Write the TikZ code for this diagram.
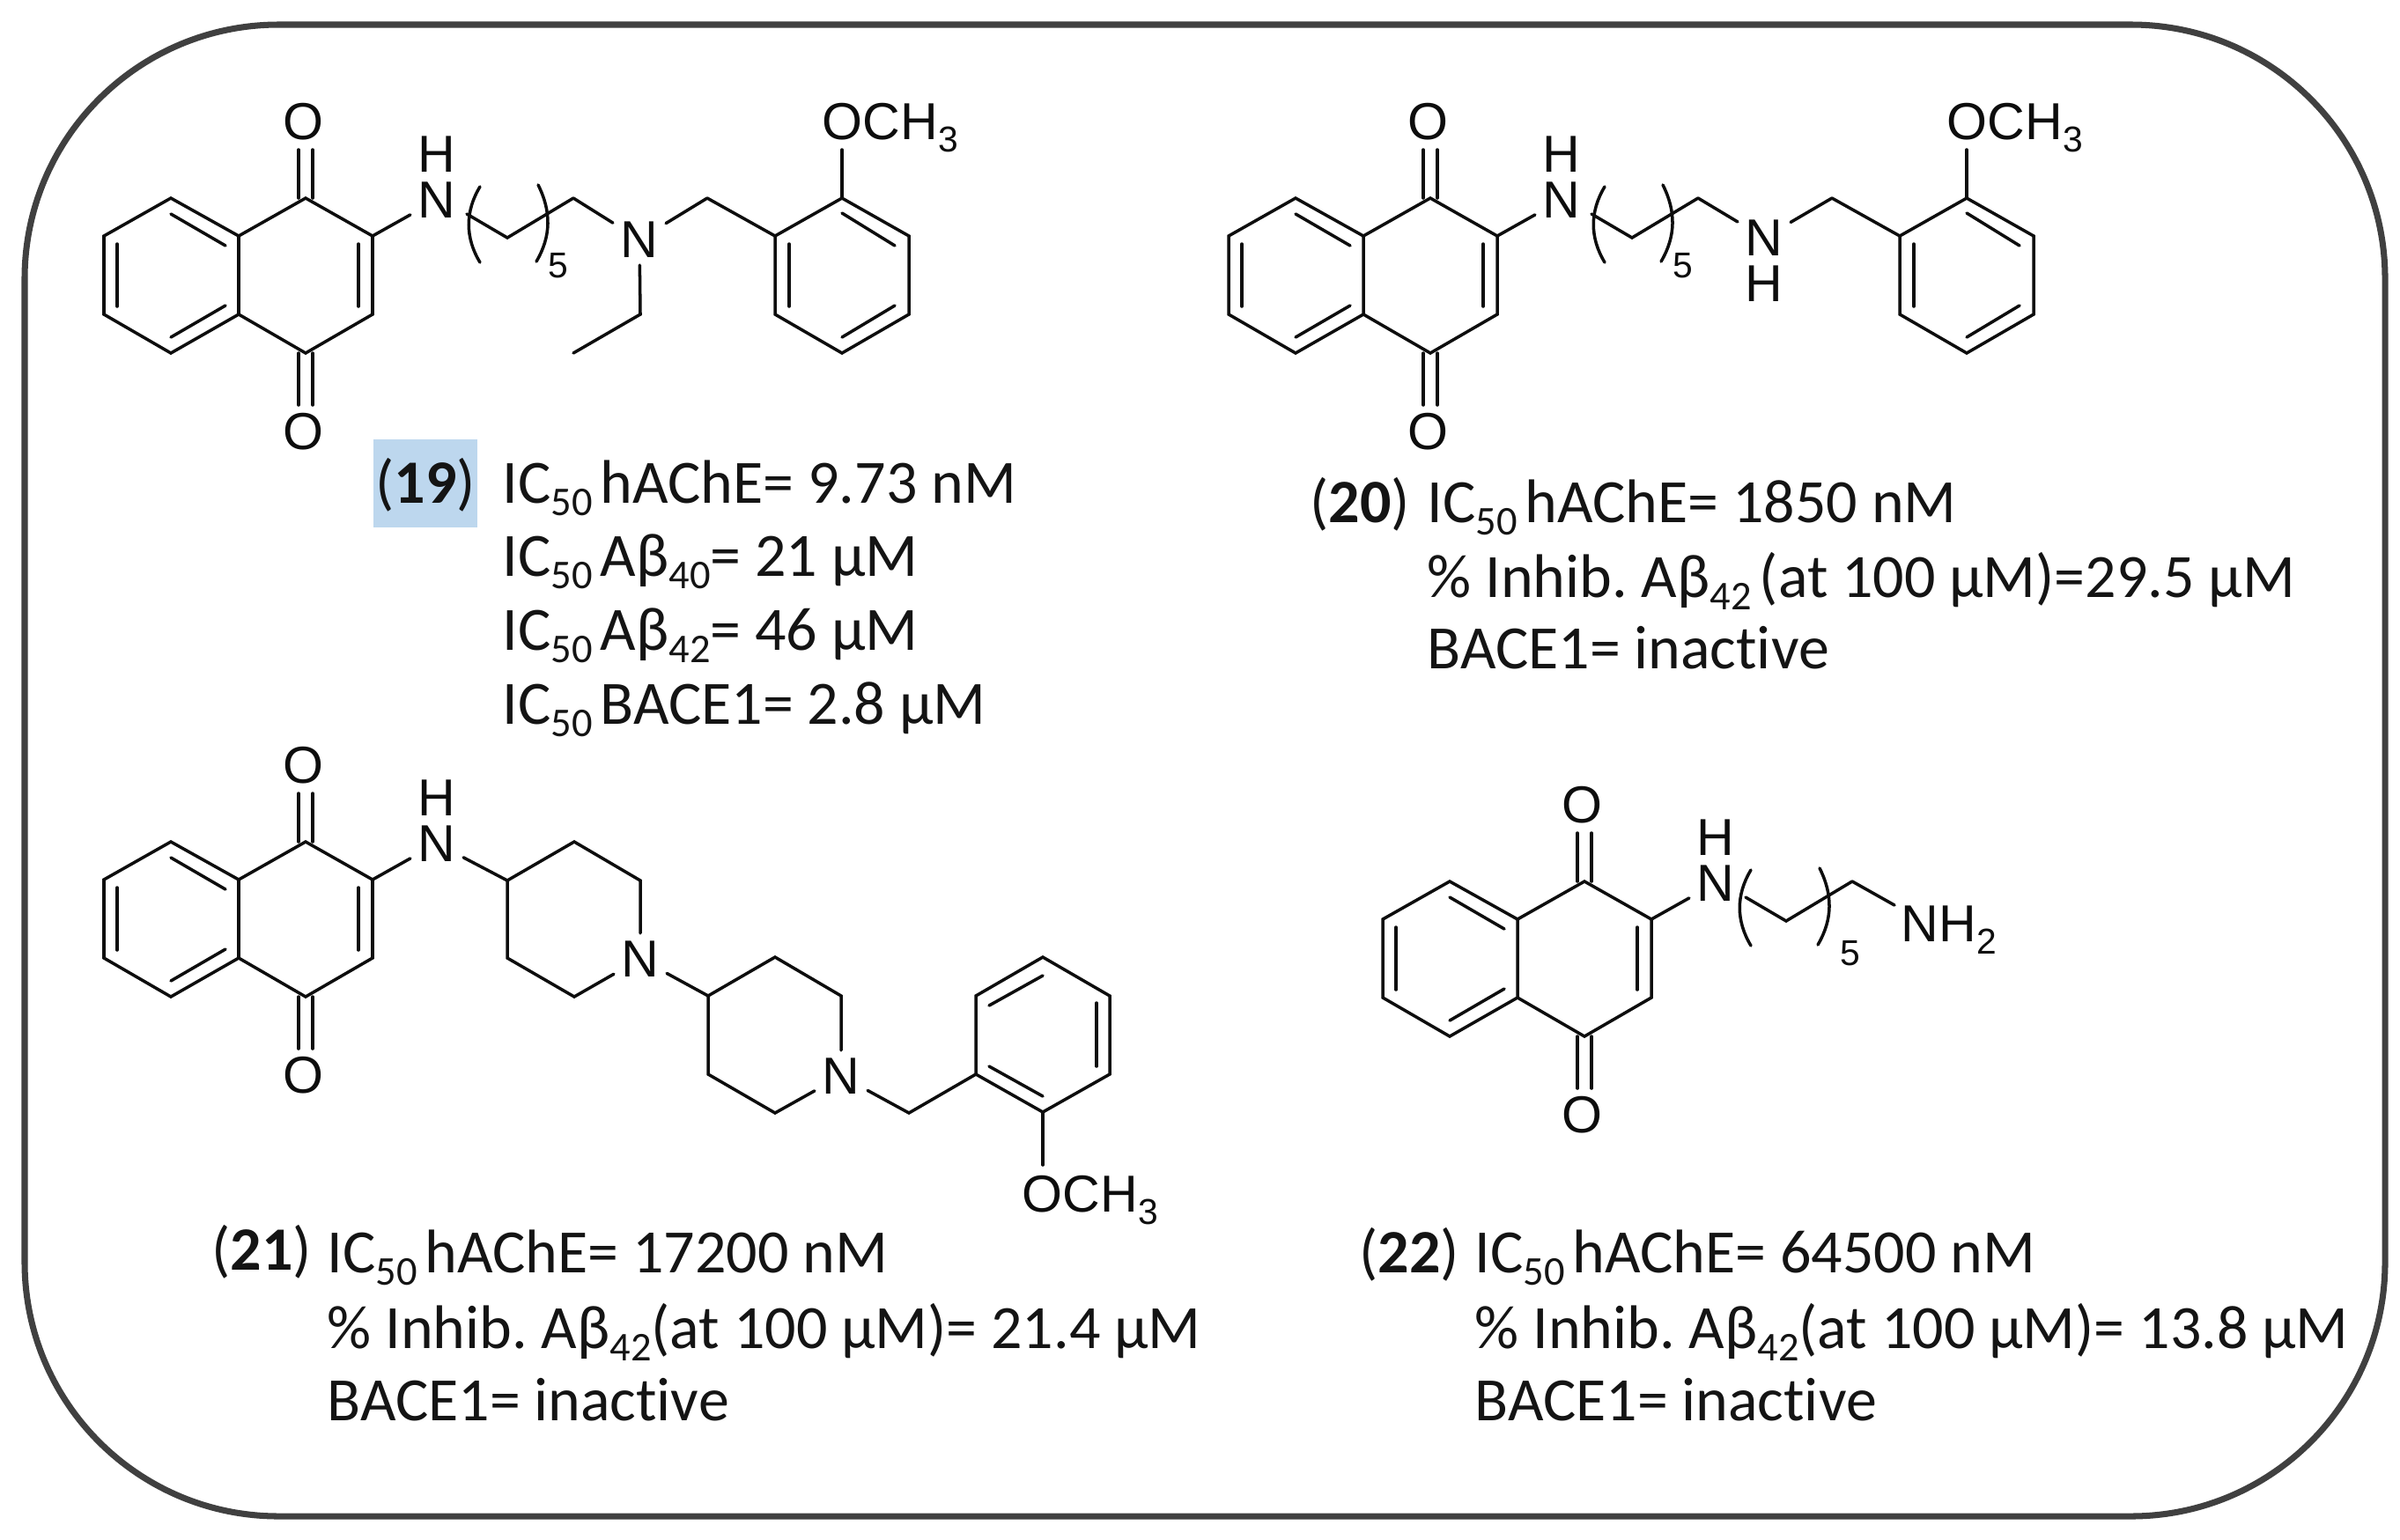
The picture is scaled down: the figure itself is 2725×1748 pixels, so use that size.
\documentclass[tikz,border=0pt]{standalone}
\usepackage{fontspec}
\setmainfont[Ligatures={NoCommon}]{Carlito}
\newfontfamily\atomfont{Liberation Sans}
\definecolor{hilite}{HTML}{BDD7EE}
\definecolor{framegray}{HTML}{404040}
\frenchspacing
\newcommand{\lowidx}[1]{\raisebox{-4pt}{\fontsize{13.2}{13.2}\selectfont #1}}
\newcommand{\atomidx}[1]{\raisebox{-4pt}{\fontsize{11.6}{11.6}\selectfont #1}}
\newcommand{\gp}{\hspace{2.6pt}}
\tikzset{
  x=0.01cm,y=-0.01cm,
  bond/.style={line width=1pt,color=black!95,line join=miter,line cap=round},
  atom/.style={font=\atomfont\fontsize{16.8}{16.8}\selectfont,inner sep=2.3pt,text=black!95},
  hatom/.style={atom,inner sep=0pt},
  count/.style={font=\atomfont\fontsize{11.6}{11.6}\selectfont,inner sep=0pt,text=black!95},
  atomtext/.style={font=\atomfont\fontsize{16.8}{16.8}\selectfont,inner sep=0pt,anchor=base west,text=black!95},
  datum/.style={font=\fontsize{19.9}{19.9}\selectfont,inner sep=0pt,anchor=base west,text=black!92},
  frame/.style={draw=framegray,line width=2pt,rounded corners=82pt}
}
% quinone core with NH, in the frame of compound 19
\newcommand{\quinonecore}{
  \coordinate (a1) at (118,268); \coordinate (a2) at (194,225); \coordinate (a3) at (271,268);
  \coordinate (a4) at (271,357); \coordinate (a5) at (194,401); \coordinate (a6) at (118,357);
  \coordinate (b1) at (347,225); \coordinate (b2) at (423,268); \coordinate (b3) at (423,357);
  \coordinate (b4) at (347,401);
  \draw[bond] (a1)--(a2)--(a3)--(a4)--(a5)--(a6)--cycle;
  \draw[bond] (a3)--(b1)--(b2)--(b3)--(b4)--(a4);
  \draw[bond] (133,277)--(133,348);
  \draw[bond] (194,243)--(256,279);
  \draw[bond] (194,383)--(256,347);
  \draw[bond] (407,277)--(407,348);
  \node[atom] (o1) at (344,138) {O};
  \node[atom] (o2) at (344,490) {O};
  \draw[bond] (339,170)--(339,225) (355,170)--(355,225);
  \draw[bond] (339,401)--(339,460) (355,401)--(355,460);
  \node[atom] (n1) at (496,227) {N};
  \node[hatom] (h1) at (496,175) {H};
  \draw[bond] (b2)--(n1);
}
% pentyl repeat with brackets up to the last CH2: #1 left bracket dx, #2 right bracket dx, #3 count dx, #4 count dy
\newcommand{\pentyl}[4]{
  \coordinate (c1) at (530,243); \coordinate (c2) at (576,270); \coordinate (c3) at (651,225);
  \draw[bond] (c1)--(c2)--(c3);
  \draw[bond,xshift=#1*0.01cm] (545,212) .. controls (528,240) and (528,270) .. (545,298);
  \draw[bond,xshift=#2*0.01cm] (611,210) .. controls (626,240) and (626,268) .. (609,297);
  \node[count] (cnt) at (634+#3,302+#4) {5};
}
% benzyl + OMe of 19 / 20
\newcommand{\anisyl}{
  \coordinate (d0) at (803,225);
  \coordinate (d1) at (880,268); \coordinate (d2) at (956,225); \coordinate (d3) at (1032,268);
  \coordinate (d4) at (1032,357); \coordinate (d5) at (956,401); \coordinate (d6) at (880,357);
  \draw[bond] (d0)--(d1);
  \draw[bond] (d1)--(d2)--(d3)--(d4)--(d5)--(d6)--cycle;
  \draw[bond] (896,277)--(896,348);
  \draw[bond] (956,242)--(1016,279);
  \draw[bond] (956,383)--(1016,347);
  \node[atomtext] (ome) at (933,158) {OCH\atomidx{3}};
  \coordinate (omeb) at (956,170);
  \draw[bond] (d2)--(omeb);
}
\begin{document}
\begin{tikzpicture}
\useasboundingbox (0,0) rectangle (2725,1748);
\fill[white] (0,0) rectangle (2725,1748);
\draw[frame] (28,28) rectangle (2708,1722);

% ---------- 19
\begin{scope}[name prefix=m19-]
  \quinonecore \pentyl{0}{0}{0}{0}
  \node[atom] (n2) at (726,272) {N};
  \coordinate (e1) at (727,357); \coordinate (e2) at (651,401);
  \anisyl
  \draw[bond] (c3)--(n2);
  \draw[bond] (n2)--(d0);
  \draw[bond] (n2)--(e1)--(e2);
\end{scope}
\fill[hilite] (424,499) rectangle (542,599);
\node[datum] (t19) at (426,571) {(\textbf{19})};
\node[datum] (t19a) at (570,571) {IC\lowidx{50}\gp hAChE= 9.73 nM};
\node[datum] (t19b) at (570,654) {IC\lowidx{50}\gp Aβ\lowidx{40}= 21 μM};
\node[datum] (t19c) at (570,738) {IC\lowidx{50}\gp Aβ\lowidx{42}= 46 μM};
\node[datum] (t19d) at (570,822) {IC\lowidx{50}\gp BACE1= 2.8 μM};

% ---------- 20
\begin{scope}[shift={(1277,0)},name prefix=m20-]
  \quinonecore \pentyl{0}{0}{0}{0}
  \node[atom] (n2) at (726,270) {N};
  \node[hatom] (h2) at (726,322) {H};
  \anisyl
  \draw[bond] (c3)--(n2);
  \draw[bond] (n2)--(d0);
\end{scope}
\node[datum] (t20) at (1487,593) {(\textbf{20})};
\node[datum] (t20a) at (1620,593) {IC\lowidx{50}\gp hAChE= 1850 nM};
\node[datum] (t20b) at (1620,678) {\% Inhib. Aβ\lowidx{42}\gp (at 100 μM)=29.5 μM};
\node[datum] (t20c) at (1620,759) {BACE1= inactive};

% ---------- 21
\begin{scope}[shift={(0,731)},name prefix=m21-]
  \quinonecore
\end{scope}
\begin{scope}[name prefix=m21-]
  \coordinate (p1) at (576,1000); \coordinate (p2) at (652,956); \coordinate (p3) at (727,1000);
  \node[atom] (np) at (727,1089) {N};
  \coordinate (p5) at (652,1132); \coordinate (p6) at (576,1088);
  \draw[bond] (n1)--(p1)--(p2)--(p3)--(np)--(p5)--(p6)--(p1);
  \coordinate (q1) at (804,1131); \coordinate (q2) at (880,1087); \coordinate (q3) at (955,1131);
  \node[atom] (nq) at (955,1222) {N};
  \coordinate (q5) at (880,1264); \coordinate (q6) at (804,1220);
  \draw[bond] (np)--(q1)--(q2)--(q3)--(nq)--(q5)--(q6)--(q1);
  \coordinate (r0) at (1032,1264);
  \coordinate (r1) at (1108,1220); \coordinate (r2) at (1108,1131); \coordinate (r3) at (1184,1087);
  \coordinate (r4) at (1260,1131); \coordinate (r5) at (1260,1220); \coordinate (r6) at (1184,1263);
  \draw[bond] (nq)--(r0)--(r1);
  \draw[bond] (r1)--(r2)--(r3)--(r4)--(r5)--(r6)--cycle;
  \draw[bond] (1123,1142)--(1184,1108);
  \draw[bond] (1245,1139)--(1245,1211);
  \draw[bond] (1123,1211)--(1184,1245);
  \node[atomtext] (ome) at (1160,1376) {OCH\atomidx{3}};
  \coordinate (omeb) at (1184,1323);
  \draw[bond] (r6)--(omeb);
\end{scope}
\node[datum] (t21) at (240,1442) {(\textbf{21})};
\node[datum] (t21a) at (371,1445) {IC\lowidx{50}\gp hAChE= 17200 nM};
\node[datum] (t21b) at (371,1531) {\% Inhib. Aβ\lowidx{42}(at 100 μM)= 21.4 μM};
\node[datum] (t21c) at (371,1613) {BACE1= inactive};

% ---------- 22
\begin{scope}[shift={(1452,776)},name prefix=m22-]
  \quinonecore \pentyl{-9}{3}{15}{5}
  \node[atomtext] (nh2) at (706,293) {NH\atomidx{2}};
  \coordinate (f1) at (699,252);
  \draw[bond] (c3)--(f1);
\end{scope}
\node[datum] (t22) at (1543,1445) {(\textbf{22})};
\node[datum] (t22a) at (1674,1445) {IC\lowidx{50}\gp hAChE= 64500 nM};
\node[datum] (t22b) at (1674,1531) {\% Inhib. Aβ\lowidx{42}(at 100 μM)= 13.8 μM};
\node[datum] (t22c) at (1674,1613) {BACE1= inactive};
\end{tikzpicture}
\end{document}
